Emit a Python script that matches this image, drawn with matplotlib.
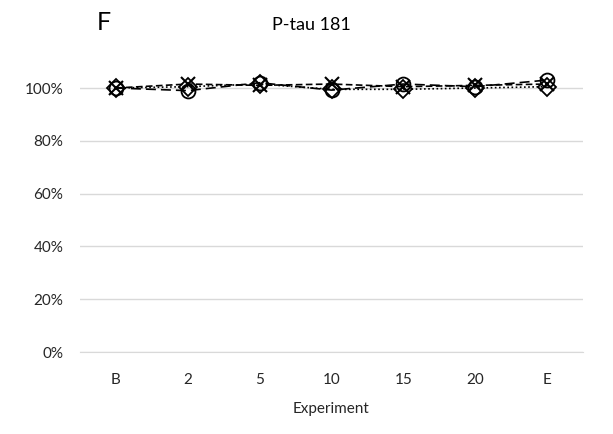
import matplotlib
matplotlib.use("Agg")
import matplotlib.pyplot as plt
from matplotlib.ticker import PercentFormatter

categories = ["B", "2", "5", "10", "15", "20", "E"]
circle_vals = [1.000, 0.990, 1.020, 0.992, 1.015, 1.005, 1.030]
diamond_vals = [1.000, 1.005, 1.015, 0.995, 0.995, 1.000, 1.005]
cross_vals = [1.000, 1.015, 1.010, 1.015, 1.005, 1.010, 1.015]
yticks = [0, 0.2, 0.4, 0.6, 0.8, 1.0]

plt.rcParams['font.family'] = ['Lato', 'DejaVu Sans']

W, H = 613, 434
fig = plt.figure(figsize=(W/100, H/100), dpi=100)
top_px, bot_px = 74.8, 352
ax = fig.add_axes([80/W, 1 - bot_px/H, (583-80)/W, (bot_px-top_px)/H])

x = list(range(len(categories)))
ax.plot(x, circle_vals, color='black', lw=1.2, ls=(0, (6, 3)), marker='o', ms=10,
        mfc='none', mec='black', mew=1.3, clip_on=False, zorder=3)
ax.plot(x, diamond_vals, color='black', lw=1.2, ls=(0, (1, 1.5)), marker='D', ms=9,
        mfc='none', mec='black', mew=1.3, clip_on=False, zorder=3)
ax.plot(x, cross_vals, color='black', lw=1.2, ls=(0, (4, 2)), marker='x', ms=10,
        mfc='none', mec='black', mew=1.5, clip_on=False, zorder=3)

ax.set_xlim(-0.5, len(categories) - 0.5)
ax.set_ylim(0, 1.05)
ax.set_xticks(x)
ax.set_xticklabels(categories)
ax.set_yticks(yticks)
ax.yaxis.set_major_formatter(PercentFormatter(1.0, decimals=0))
ax.grid(axis='y', color='#d9d9d9', lw=1)
ax.set_axisbelow(True)
for s in ['top', 'right', 'left']:
    ax.spines[s].set_visible(False)
ax.spines['bottom'].set_color('#d9d9d9')
ax.tick_params(length=0, labelsize=11, colors='#262626', pad=15)
ax.tick_params(axis='y', pad=12)
ax.set_xlabel('Experiment', fontsize=11, color='#262626', labelpad=11)

fig.text(97/W, 1 - 23/H, 'F', fontsize=18, ha='left', va='center')
fig.text(311/W, 1 - 25/H, 'P-tau 181', fontsize=13, ha='center', va='center')

fig.savefig('out.png', dpi=100, facecolor='white')
